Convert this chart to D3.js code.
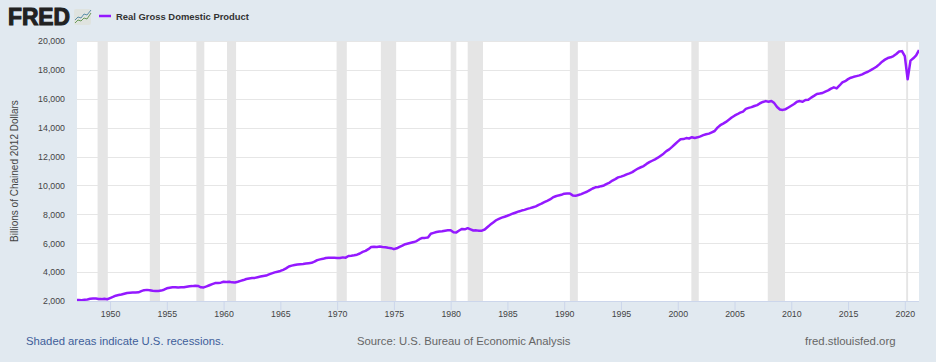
<!DOCTYPE html>
<html lang="en">
<head>
<meta charset="utf-8">
<script src="https://d3js.org/d3.v7.min.js"></script>
<style>
    html, body { margin: 0; padding: 0; background: #e1e9f0; overflow: hidden; }
    text { font-family: "Liberation Sans", Arial, sans-serif; }
</style>
</head>
<body>
<script>
    var width = 936, height = 362;

    var firstYear = 1947;
    // quarterly values, billions of chained 2012 dollars
    var gdp = [
        2069, 2065, 2060, 2085,
        2110, 2150, 2165, 2170,
        2140, 2130, 2150, 2120,
        2200, 2280, 2370, 2410,
        2450, 2500, 2550, 2570,
        2580, 2590, 2600, 2680,
        2750, 2770, 2750, 2710,
        2690, 2690, 2720, 2780,
        2880, 2920, 2950, 2960,
        2940, 2950, 2950, 2990,
        3020, 3030, 3060, 3040,
        2950, 2940, 3010, 3090,
        3170, 3240, 3250, 3270,
        3330, 3320, 3330, 3290,
        3280, 3330, 3390, 3450,
        3520, 3560, 3590, 3600,
        3650, 3690, 3730, 3760,
        3840, 3910, 3980, 4030,
        4080, 4160, 4260, 4390,
        4450, 4490, 4520, 4550,
        4560, 4590, 4620, 4640,
        4720, 4830, 4880, 4920,
        4980, 5000, 5000, 4990,
        4980, 4980, 5020, 5000,
        5115, 5140, 5170, 5205,
        5290, 5400, 5470, 5590,
        5740, 5760, 5740, 5770,
        5740, 5720, 5680, 5660,
        5590, 5650, 5750, 5840,
        5930, 5980, 6030, 6080,
        6150, 6280, 6370, 6370,
        6390, 6660, 6720, 6780,
        6810, 6830, 6870, 6890,
        6900, 6760, 6750, 6880,
        6990, 6960, 7040, 6960,
        6880, 6890, 6860, 6870,
        6950, 7120, 7290, 7440,
        7590, 7690, 7770, 7830,
        7900, 7980, 8060, 8130,
        8200, 8260, 8310, 8380,
        8430, 8490, 8550, 8660,
        8740, 8840, 8930, 9030,
        9170, 9250, 9310, 9350,
        9430, 9450, 9440, 9310,
        9280, 9340, 9400, 9490,
        9560, 9680, 9790, 9870,
        9890, 9950, 10000, 10110,
        10200, 10340, 10440, 10560,
        10610, 10680, 10770, 10840,
        10920, 11050, 11170, 11260,
        11340, 11490, 11610, 11710,
        11810, 11920, 12060, 12200,
        12380, 12500, 12670, 12850,
        13030, 13200, 13210, 13280,
        13250, 13340, 13290, 13330,
        13400, 13480, 13540, 13590,
        13680, 13770, 14000, 14170,
        14280, 14400, 14550, 14700,
        14830, 14930, 15040, 15110,
        15300, 15370, 15420, 15500,
        15560, 15690, 15780, 15840,
        15790, 15850, 15700, 15430,
        15260, 15230, 15280, 15400,
        15520, 15640, 15800, 15840,
        15790, 15915, 15930, 16080,
        16200, 16330, 16360, 16400,
        16500, 16580, 16700, 16790,
        16720, 16920, 17130, 17220,
        17360, 17460, 17520, 17570,
        17620, 17690, 17790, 17870,
        17980, 18100, 18220, 18380,
        18570, 18710, 18820, 18870,
        18960, 19100, 19270, 19300,
        18950, 17350, 18640, 18800,
        19000, 19380
    ];
    // NBER recessions as fractional years
    var recessionStart = [1948.9, 1953.5, 1957.6, 1960.3, 1969.95, 1973.85, 1980.0, 1981.5, 1990.5, 2001.2, 2007.93, 2020.12];
    var recessionEnd = [1949.8, 1954.4, 1958.3, 1961.1, 1970.85, 1975.2, 1980.5, 1982.85, 1991.2, 2001.85, 2009.45, 2020.29];
    var yTicks = [2000, 4000, 6000, 8000, 10000, 12000, 14000, 16000, 18000, 20000];
    var xTicks = [1950, 1955, 1960, 1965, 1970, 1975, 1980, 1985, 1990, 1995, 2000, 2005, 2010, 2015, 2020];

    var svg = d3.select('body').append('svg').attr('width', width).attr('height', height)
        .style('display', 'block');

    var x = d3.scaleLinear().domain([1947, 2021.25]).range([76, 919]);
    var y = d3.scaleLinear().domain([2000, 20000]).range([301, 41]);

    svg.append('clipPath').attr('id', 'plot').append('rect')
        .attr('x', 77).attr('y', 41).attr('width', 842).attr('height', 260);

    // plot background
    svg.append('rect').attr('x', 77).attr('y', 41).attr('width', 842).attr('height', 260).attr('fill', '#fff');

    // gridlines
    svg.append('g').selectAll('line').data(yTicks.slice(1)).join('line')
        .attr('x1', 77).attr('x2', 919)
        .attr('y1', function(d) { return Math.round(y(d)) + 0.5; })
        .attr('y2', function(d) { return Math.round(y(d)) + 0.5; })
        .attr('stroke', '#e6e6e6');

    // recessions
    svg.append('g').selectAll('rect').data(recessionStart).join('rect')
        .attr('x', function(d) { return x(d); })
        .attr('width', function(d, i) { return x(recessionEnd[i]) - x(d); })
        .attr('y', 41).attr('height', 260)
        .attr('fill', '#e5e5e5');

    // axes
    var xAxis = svg.append('g').attr('transform', 'translate(0,301)')
        .call(d3.axisBottom(x).tickValues(xTicks).tickFormat(d3.format('d')).tickSize(9).tickPadding(1));
    xAxis.select('.domain').attr('d', 'M77,0.5H919').attr('stroke', '#ccd6eb');
    xAxis.selectAll('line').attr('stroke', '#ccd6eb');
    xAxis.selectAll('text').attr('fill', '#444').style('font-size', '8.8px')
        .style('font-family', '"Liberation Sans", Arial, sans-serif');

    var yAxis = svg.append('g').attr('transform', 'translate(77,0)')
        .call(d3.axisLeft(y).tickValues(yTicks).tickFormat(d3.format(',')).tickSize(0).tickPadding(12));
    yAxis.select('.domain').remove();
    yAxis.selectAll('text').attr('fill', '#444').style('font-size', '8.8px')
        .style('font-family', '"Liberation Sans", Arial, sans-serif');

    svg.append('text').attr('transform', 'translate(18,171) rotate(-90)')
        .attr('text-anchor', 'middle').attr('fill', '#444').style('font-size', '10px')
        .text('Billions of Chained 2012 Dollars');

    // the series
    var line = d3.line()
        .x(function(d, i) { return x(firstYear + i / 4); })
        .y(function(d) { return y(d); });
    svg.append('path').datum(gdp)
        .attr('d', line)
        .attr('clip-path', 'url(#plot)')
        .attr('fill', 'none')
        .attr('stroke', '#9419ff')
        .attr('stroke-width', 2.5)
        .attr('stroke-linejoin', 'round');

    // FRED logo
    svg.append('text').attr('x', 8).attr('y', 25)
        .attr('textLength', 62).attr('lengthAdjust', 'spacingAndGlyphs')
        .attr('fill', '#222').attr('stroke', '#222').attr('stroke-width', 1.1)
        .style('font-size', '23px').style('font-weight', 'bold')
        .text('FRED');
    var logo = svg.append('g').attr('transform', 'translate(74,9)');
    logo.append('rect').attr('width', 17).attr('height', 16).attr('rx', 2).attr('fill', '#dfe3df');
    logo.append('path').attr('d', 'M1 11L4 8L7 9L10 5L13 6L17 1').attr('fill', 'none').attr('stroke', '#5b8fa8');
    logo.append('path').attr('d', 'M1 14L4 11L7 12L10 9L13 10L17 4').attr('fill', 'none').attr('stroke', '#6a9a5b');

    // legend
    svg.append('line').attr('x1', 99).attr('x2', 111).attr('y1', 16).attr('y2', 16)
        .attr('stroke', '#9419ff').attr('stroke-width', 2.5);
    svg.append('text').attr('x', 116).attr('y', 19.5).attr('fill', '#333')
        .style('font-size', '9.43px').style('font-weight', 'bold')
        .text('Real Gross Domestic Product');

    // footer
    svg.append('text').attr('x', 26).attr('y', 345).attr('fill', '#3e5e9a').style('font-size', '11.3px')
        .text('Shaded areas indicate U.S. recessions.');
    svg.append('text').attr('x', 357).attr('y', 345).attr('fill', '#666').style('font-size', '11.3px')
        .text('Source: U.S. Bureau of Economic Analysis');
    svg.append('text').attr('x', 805).attr('y', 345).attr('fill', '#666').style('font-size', '11.4px')
        .text('fred.stlouisfed.org');
</script>
</body>
</html>
